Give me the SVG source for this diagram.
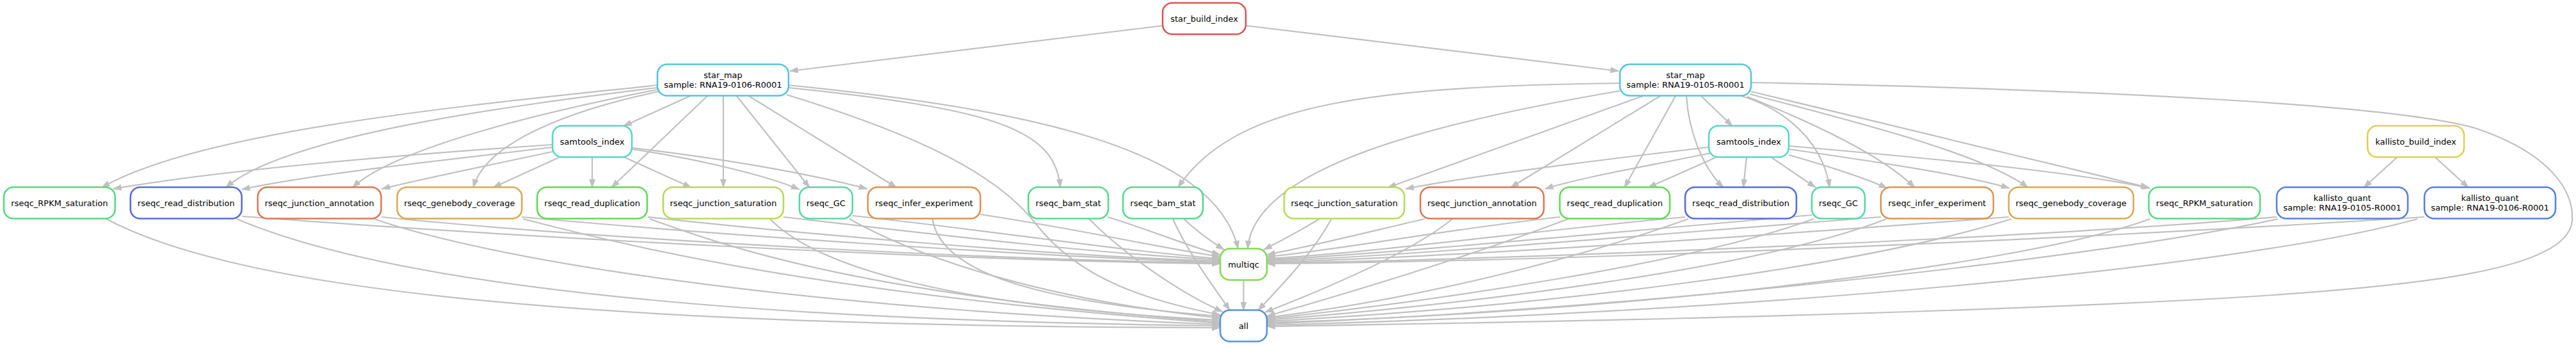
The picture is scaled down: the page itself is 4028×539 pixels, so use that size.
<svg xmlns="http://www.w3.org/2000/svg" width="4028" height="539" viewBox="0 0 4028 539">
<defs>
<style>
.n rect{fill:#fff;stroke-width:2.6}
.n text{font-family:"DejaVu Sans","Liberation Sans",sans-serif;font-size:13px;fill:#000;text-anchor:middle}
.e path{fill:none;stroke:#c0c0c0;stroke-width:2.2;marker-end:url(#a)}
</style>
<marker id="a" viewBox="0 0 14 10" refX="13" refY="5" markerWidth="14" markerHeight="10" markerUnits="userSpaceOnUse" orient="auto"><path d="M0,0 L14,5 L0,10 z" fill="#c0c0c0"/></marker>
</defs>
<rect width="4028" height="539" fill="#fff"/>
<g id="edges" class="e">
<path d="M1819,40 L1235,111"/>
<path d="M1948,40 L2531,111"/>
<path d="M1079,150 L975,197"/>
<path d="M1028,133 C780,160 320,200 159,293"/>
<path d="M1028,137 C800,165 450,210 353,293"/>
<path d="M1028,140 C850,175 620,230 551,293"/>
<path d="M1030,143 C900,170 760,220 740,293"/>
<path d="M1106,150 L956,293"/>
<path d="M1131,150 L1131,293"/>
<path d="M1152,150 L1266,293"/>
<path d="M1171,150 L1402,293"/>
<path d="M1233,137 C1550,170 1650,200 1658,293"/>
<path d="M1233,133 C1600,170 1900,230 1936,389"/>
<path d="M1230,148 C1400,200 1550,260 1620,350 S1800,470 1908,492"/>
<path d="M864,226 C650,240 350,265 177,295"/>
<path d="M864,230 C700,250 500,270 378,296"/>
<path d="M864,237 C780,255 680,275 597,295"/>
<path d="M874,246 L771,293"/>
<path d="M926,246 L926,293"/>
<path d="M977,246 L1081,293"/>
<path d="M988,233 C1100,250 1200,275 1250,296"/>
<path d="M988,231 C1150,250 1280,275 1356,295"/>
<path d="M2660,150 L2709,197"/>
<path d="M2533,130 C2150,135 1930,160 1842,293"/>
<path d="M2533,142 C2250,190 1960,260 1951,389"/>
<path d="M2569,150 L2170,293"/>
<path d="M2596,150 L2362,293"/>
<path d="M2620,150 L2540,293"/>
<path d="M2637,150 C2640,200 2660,260 2695,293"/>
<path d="M2723,150 C2790,170 2850,220 2861,293"/>
<path d="M2732,151 C2830,190 2940,240 2994,293"/>
<path d="M2736,147 C2900,190 3100,240 3171,293"/>
<path d="M2738,143 L3360,293"/>
<path d="M2738,129 C3300,140 3750,165 3870,200 C3990,240 4025,300 4022,345 C4015,420 3800,450 3400,470 C2900,495 2300,505 1981,510"/>
<path d="M2672,230 C2500,250 2300,275 2198,295"/>
<path d="M2680,238 C2600,255 2480,275 2416,295"/>
<path d="M2683,246 L2577,293"/>
<path d="M2731,246 L2726,293"/>
<path d="M2770,246 L2839,293"/>
<path d="M2797,242 C2860,260 2920,280 2951,294"/>
<path d="M2797,233 C2950,255 3080,275 3142,294"/>
<path d="M2797,228 C3050,250 3250,270 3362,294"/>
<path d="M3748,246 L3696,293"/>
<path d="M3808,246 L3860,293"/>
<path d="M164,341 C350,440 800,510 1908,512"/>
<path d="M379,338 C800,370 1500,408 1908,412"/>
<path d="M370,342 C600,440 1100,500 1908,509"/>
<path d="M597,339 C900,370 1500,405 1908,411"/>
<path d="M585,342 C750,400 1200,480 1908,507"/>
<path d="M816,339 C1100,365 1600,400 1908,410"/>
<path d="M818,342 C1000,390 1300,460 1908,505"/>
<path d="M1013,339 C1250,365 1650,400 1908,408"/>
<path d="M1016,342 C1150,390 1350,460 1908,503"/>
<path d="M1225,339 C1450,365 1700,395 1908,406"/>
<path d="M1204,342 C1280,420 1500,480 1908,500"/>
<path d="M1333,337 C1550,360 1750,392 1908,404"/>
<path d="M1328,342 C1450,410 1650,470 1908,497"/>
<path d="M1533,335 C1700,360 1800,385 1908,401"/>
<path d="M1458,342 C1470,420 1600,470 1908,494"/>
<path d="M1732,339 C1800,360 1860,385 1908,398"/>
<path d="M1703,342 C1760,400 1850,460 1912,487"/>
<path d="M1851,342 C1870,360 1895,378 1914,390"/>
<path d="M1834,342 C1860,400 1900,450 1923,485"/>
<path d="M2063,342 C2030,362 2000,378 1976,390"/>
<path d="M2082,342 C2050,400 2000,450 1967,485"/>
<path d="M2228,342 C2150,360 2050,385 1981,398"/>
<path d="M2271,342 C2200,400 2050,460 1978,488"/>
<path d="M2439,339 C2250,360 2100,390 1981,401"/>
<path d="M2452,342 C2300,400 2100,460 1981,494"/>
<path d="M2635,339 C2400,360 2150,395 1981,404"/>
<path d="M2640,342 C2450,410 2200,470 1981,496"/>
<path d="M2833,336 C2500,365 2150,398 1981,406"/>
<path d="M2836,342 C2650,410 2250,470 1981,498"/>
<path d="M2941,339 C2600,365 2200,400 1981,408"/>
<path d="M2950,342 C2750,420 2300,475 1981,500"/>
<path d="M3141,339 C2800,365 2300,400 1981,410"/>
<path d="M3145,342 C2900,420 2400,480 1981,502"/>
<path d="M3362,342 C3150,420 2500,490 1981,504"/>
<path d="M3560,339 C3200,370 2400,405 1981,411"/>
<path d="M3562,342 C3300,400 2600,480 1981,506"/>
<path d="M3791,339 C3300,370 2500,408 1981,412"/>
<path d="M3780,342 C3500,420 2700,490 1981,508"/>
<path d="M1944.5,438 L1944.5,485"/>
</g>
<g id="star_build_index" class="n"><rect x="1818" y="4.5" width="130" height="49" rx="15" stroke="#d95757"/><text x="1883" y="33.5">star_build_index</text></g>
<g id="star_map_0106" class="n"><rect x="1028" y="100.5" width="205" height="49" rx="15" stroke="#57c5d9"/><text x="1130.5" y="121.5">star_map</text><text x="1130.5" y="136.5">sample: RNA19-0106-R0001</text></g>
<g id="star_map_0105" class="n"><rect x="2533" y="100.5" width="205" height="49" rx="15" stroke="#57c5d9"/><text x="2635.5" y="121.5">star_map</text><text x="2635.5" y="136.5">sample: RNA19-0105-R0001</text></g>
<g id="samtools_index_0106" class="n"><rect x="864" y="196.5" width="124" height="49" rx="15" stroke="#57d9c3"/><text x="926" y="225.5">samtools_index</text></g>
<g id="samtools_index_0105" class="n"><rect x="2672" y="196.5" width="125" height="49" rx="15" stroke="#57d9c3"/><text x="2734.5" y="225.5">samtools_index</text></g>
<g id="kallisto_build_index" class="n"><rect x="3702" y="196.5" width="151" height="49" rx="15" stroke="#d9d257"/><text x="3777.5" y="225.5">kallisto_build_index</text></g>
<g id="rpkm_0106" class="n"><rect x="6" y="292.5" width="174" height="49" rx="15" stroke="#57d982"/><text x="93" y="321.5">rseqc_RPKM_saturation</text></g>
<g id="rdist_0106" class="n"><rect x="204" y="292.5" width="174" height="49" rx="15" stroke="#576dd9"/><text x="291" y="321.5">rseqc_read_distribution</text></g>
<g id="jann_0106" class="n"><rect x="403" y="292.5" width="193" height="49" rx="15" stroke="#d97857"/><text x="499.5" y="321.5">rseqc_junction_annotation</text></g>
<g id="gb_0106" class="n"><rect x="621" y="292.5" width="195" height="49" rx="15" stroke="#d9a957"/><text x="718.5" y="321.5">rseqc_genebody_coverage</text></g>
<g id="rdup_0106" class="n"><rect x="840" y="292.5" width="172" height="49" rx="15" stroke="#62d957"/><text x="926" y="321.5">rseqc_read_duplication</text></g>
<g id="jsat_0106" class="n"><rect x="1037" y="292.5" width="188" height="49" rx="15" stroke="#b8d957"/><text x="1131" y="321.5">rseqc_junction_saturation</text></g>
<g id="gc_0106" class="n"><rect x="1250" y="292.5" width="83" height="49" rx="15" stroke="#57d9a3"/><text x="1291.5" y="321.5">rseqc_GC</text></g>
<g id="inf_0106" class="n"><rect x="1357" y="292.5" width="176" height="49" rx="15" stroke="#d99457"/><text x="1445" y="321.5">rseqc_infer_experiment</text></g>
<g id="bam_0106" class="n"><rect x="1608" y="292.5" width="125" height="49" rx="15" stroke="#57d98d"/><text x="1670.5" y="321.5">rseqc_bam_stat</text></g>
<g id="bam_0105" class="n"><rect x="1756" y="292.5" width="125" height="49" rx="15" stroke="#57d98d"/><text x="1818.5" y="321.5">rseqc_bam_stat</text></g>
<g id="jsat_0105" class="n"><rect x="2008" y="292.5" width="188" height="49" rx="15" stroke="#b8d957"/><text x="2102" y="321.5">rseqc_junction_saturation</text></g>
<g id="jann_0105" class="n"><rect x="2221" y="292.5" width="193" height="49" rx="15" stroke="#d97857"/><text x="2317.5" y="321.5">rseqc_junction_annotation</text></g>
<g id="rdup_0105" class="n"><rect x="2439" y="292.5" width="172" height="49" rx="15" stroke="#62d957"/><text x="2525" y="321.5">rseqc_read_duplication</text></g>
<g id="rdist_0105" class="n"><rect x="2635" y="292.5" width="174" height="49" rx="15" stroke="#576dd9"/><text x="2722" y="321.5">rseqc_read_distribution</text></g>
<g id="gc_0105" class="n"><rect x="2833" y="292.5" width="83" height="49" rx="15" stroke="#57d9a3"/><text x="2874.5" y="321.5">rseqc_GC</text></g>
<g id="inf_0105" class="n"><rect x="2941" y="292.5" width="176" height="49" rx="15" stroke="#d99457"/><text x="3029" y="321.5">rseqc_infer_experiment</text></g>
<g id="gb_0105" class="n"><rect x="3141" y="292.5" width="195" height="49" rx="15" stroke="#d9a957"/><text x="3238.5" y="321.5">rseqc_genebody_coverage</text></g>
<g id="rpkm_0105" class="n"><rect x="3360" y="292.5" width="174" height="49" rx="15" stroke="#57d982"/><text x="3447" y="321.5">rseqc_RPKM_saturation</text></g>
<g id="kq_0105" class="n"><rect x="3560" y="292.5" width="205" height="49" rx="15" stroke="#5782d9"/><text x="3662.5" y="313.5">kallisto_quant</text><text x="3662.5" y="328.5">sample: RNA19-0105-R0001</text></g>
<g id="kq_0106" class="n"><rect x="3791" y="292.5" width="205" height="49" rx="15" stroke="#5782d9"/><text x="3893.5" y="313.5">kallisto_quant</text><text x="3893.5" y="328.5">sample: RNA19-0106-R0001</text></g>
<g id="multiqc" class="n"><rect x="1908" y="388.5" width="73" height="49" rx="15" stroke="#82d957"/><text x="1944.5" y="417.5">multiqc</text></g>
<g id="all" class="n"><rect x="1908" y="484.5" width="73" height="49" rx="15" stroke="#5792d9"/><text x="1944.5" y="513.5">all</text></g>
</svg>
